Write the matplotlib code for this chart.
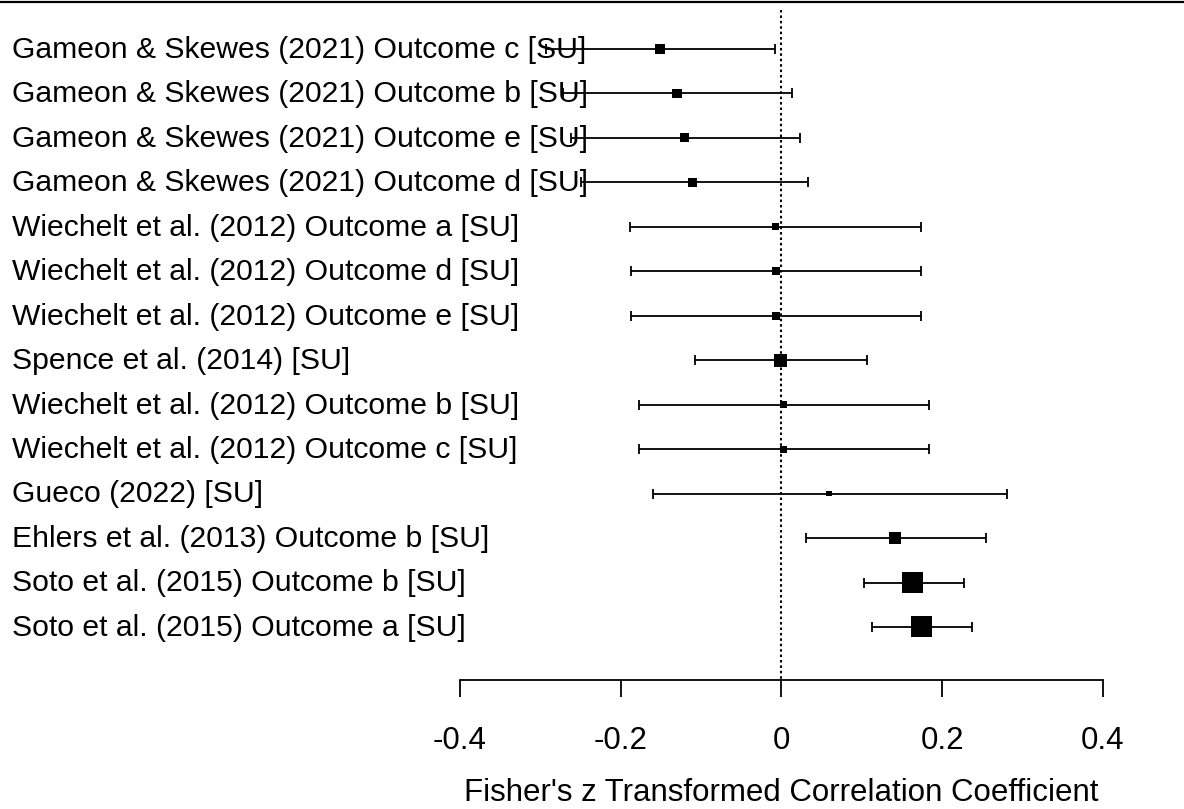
import numpy as np
import matplotlib.pyplot as plt

plt.rcParams['font.family'] = ['Liberation Sans', 'DejaVu Sans']

labels = [
    "Gameon & Skewes (2021) Outcome c [SU]",
    "Gameon & Skewes (2021) Outcome b [SU]",
    "Gameon & Skewes (2021) Outcome e [SU]",
    "Gameon & Skewes (2021) Outcome d [SU]",
    "Wiechelt et al. (2012) Outcome a [SU]",
    "Wiechelt et al. (2012) Outcome d [SU]",
    "Wiechelt et al. (2012) Outcome e [SU]",
    "Spence et al. (2014) [SU]",
    "Wiechelt et al. (2012) Outcome b [SU]",
    "Wiechelt et al. (2012) Outcome c [SU]",
    "Gueco (2022) [SU]",
    "Ehlers et al. (2013) Outcome b [SU]",
    "Soto et al. (2015) Outcome b [SU]",
    "Soto et al. (2015) Outcome a [SU]",
]
est = np.array([-0.151, -0.130, -0.121, -0.111, -0.008, -0.007, -0.007,
                -0.001, 0.002, 0.002, 0.059, 0.141, 0.163, 0.174])
lower = np.array([-0.293, -0.272, -0.262, -0.249, -0.189, -0.187, -0.187,
                  -0.107, -0.177, -0.177, -0.160, 0.030, 0.103, 0.112])
upper = np.array([-0.008, 0.013, 0.023, 0.033, 0.174, 0.174, 0.174,
                  0.107, 0.184, 0.184, 0.280, 0.254, 0.227, 0.237])
# relative weights (drive square size)
weights = np.array([10, 9.5, 9, 9, 7, 8, 7.5, 13, 7, 7, 5.5, 12.5, 21, 21])

ticks = [-0.4, -0.2, 0, 0.2, 0.4]
tick_labels = ["-0.4", "-0.2", "0", "0.2", "0.4"]

rows = np.arange(1, len(labels) + 1)
fs = 22.5

fig = plt.figure(figsize=(11.84, 8.09), dpi=100)
ax = fig.add_axes([0, 0, 1, 1])
ax.set_xlim(-0.9723, 0.5008)
ax.set_ylim(18.094, -0.102)

# confidence intervals
ax.errorbar(est, rows, xerr=[est - lower, upper - est], fmt='none',
            ecolor='black', elinewidth=1.3, capsize=3.6, capthick=1.3, zorder=2)
# point estimates, size by weight
side = 15.1 * weights / weights.max()
ax.scatter(est, rows, s=side ** 2, marker='s', color='black', linewidths=0, zorder=3)

# study labels on the left
for r, lab in zip(rows, labels):
    ax.text(12 / 1184, r + 0.02, lab, transform=ax.get_yaxis_transform(),
            ha='left', va='center', fontsize=21.7)

# reference line at 0 and top rule
ax.vlines(0, 0.12, 15.19, colors='black', linestyles=(0, (1.2, 1.4)), linewidth=1.5)
ax.axhline(-0.05, color='black', linewidth=1.6)

# bottom axis
for s in ['top', 'left', 'right']:
    ax.spines[s].set_visible(False)
ax.spines['bottom'].set_position(('data', 15.19))
ax.spines['bottom'].set_bounds(-0.4, 0.4)
ax.spines['bottom'].set_linewidth(1.3)
ax.set_xticks(ticks)
ax.set_xticklabels(tick_labels, fontsize=fs)
ax.tick_params(axis='x', direction='out', length=12.2, width=1.3, pad=21)
ax.set_yticks([])

ax.text(0, 17.74, "Fisher's z Transformed Correlation Coefficient",
        ha='center', va='center', fontsize=fs)

fig.savefig("out.png", dpi=100)
